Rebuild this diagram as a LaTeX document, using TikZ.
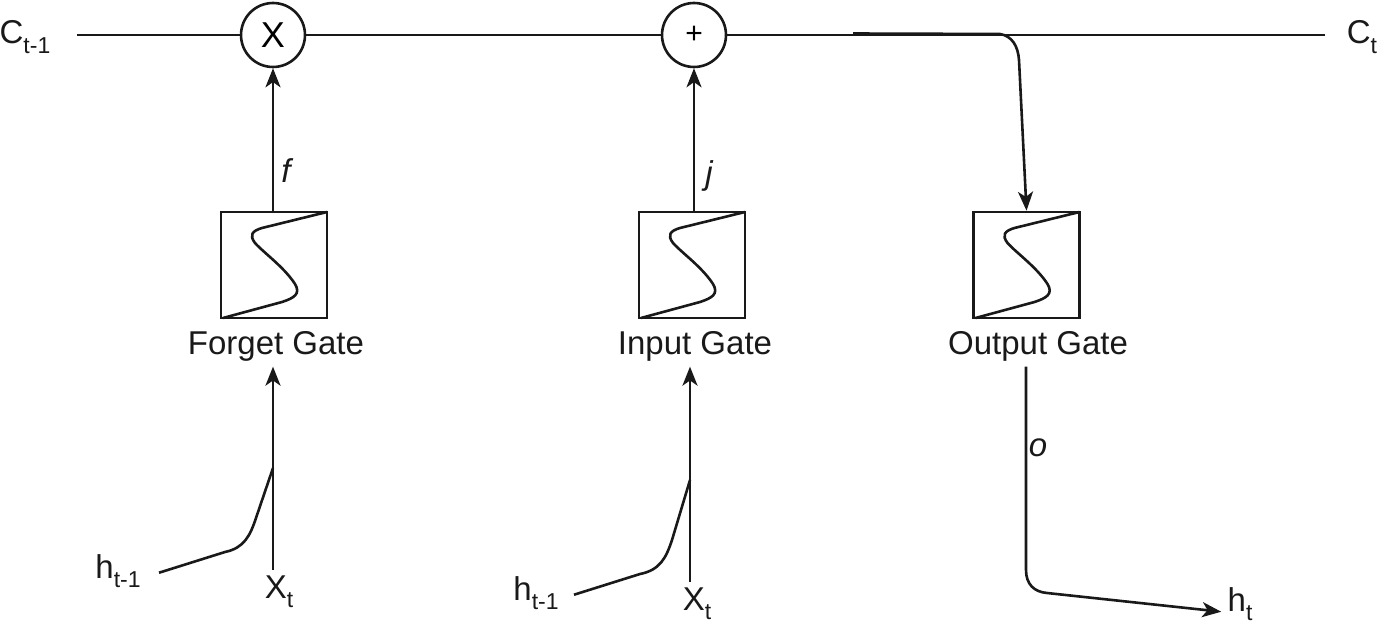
\documentclass[tikz,border=0pt]{standalone}
\usepackage{fontspec}
\setmainfont{Liberation Sans}
\usetikzlibrary{arrows.meta}
\newcommand{\sbt}[1]{\raisebox{-4.6pt}{\fontsize{11.5}{11.5}\selectfont #1}}
\newcommand{\scurve}[1]{%
  \draw[ln,line join=round,shift={(#1.center)}]
    (-51,53) -- (8,37) .. controls (20,33) and (27,29) .. (21,19)
    .. controls (10,2) and (-10,-12) .. (-19,-22)
    .. controls (-25,-30) and (-22,-34) .. (-12,-37) -- (53,-53);}
\tikzset{
  x=0.5pt,y=-0.5pt,
  ln/.style={line width=1.3pt,black!90},
  arr/.style={ln,-{Stealth[length=9.5pt,width=7.5pt,inset=2.6pt]}},
  opc/.style={circle,draw=black!90,line width=1.3pt,minimum size=32pt,inner sep=0pt,font=\fontsize{18}{18}\selectfont},
  gatebox/.style={draw=black!90,line width=1.3pt,minimum size=53pt,inner sep=0pt},
  lab/.style={anchor=base,inner xsep=0pt,inner ysep=2.7pt,font=\fontsize{16.5}{18}\selectfont,text=black!90},
  gr/.style={lab,font=\fontsize{16.5}{18}\itshape\selectfont}
}
\begin{document}
\begin{tikzpicture}
\useasboundingbox (0,0) rectangle (1379,625);
\node[opc] (c1) at (273,35) {X};
\node[opc,font=\fontsize{15}{15}\selectfont] (c2) at (694,35) {+};
\node[gatebox] (g1) at (274,265) {};
\node[gatebox] (g2) at (692,265) {};
\node[gatebox] (g3) at (1026.5,265) {};
\scurve{g1}\scurve{g2}\scurve{g3}
\node[lab] (l1) at (276,354) {Forget Gate};
\node[lab] (l2) at (695,354) {Input Gate};
\node[lab] (l3) at (1038,354) {Output Gate};
\node[lab] (cin) at (25,44) {C\sbt{t-1}};
\node[lab] (cout) at (1362,44) {C\sbt{t}};
\node[lab] (x1) at (279,598) {X\sbt{t}};
\node[lab] (x2) at (697,610) {X\sbt{t}};
\node[lab] (h1) at (118,578) {h\sbt{t-1}};
\node[lab] (h2) at (536,600) {h\sbt{t-1}};
\node[lab] (h3) at (1240,611) {h\sbt{t}};
\node[gr] at (286,183) {f};
\node[gr] at (709,185) {j};
\node[gr] at (1038,456) {o};
\coordinate (a) at (77,35);
\coordinate (b) at (1325,35);
\coordinate (t1) at (853,33.5);
\draw[ln] (a) -- (c1);
\draw[ln] (c1) -- (c2);
\draw[ln] (c2) -- (b);
\draw[arr] (g1.north -| c1.south) -- (c1.south);
\draw[arr] (g2.north -| c2.south) -- (c2.south);
\draw[ln] (t1) -- (1000,34) .. controls (1012,36) and (1018,46) .. (1019,60);
\draw[arr] (1019,60) -- (g3.north);
\draw[arr] ([xshift=-3pt]x1.north) -- ([xshift=-1.5pt]l1.south);
\draw[arr] ([xshift=-3.5pt]x2.north) -- ([xshift=-2.5pt]l2.south);
\draw[ln,line join=round] ([xshift=9pt,yshift=-1pt]h1.east) -- (225,552) .. controls (244,548) and (250,536) .. (256,518) -- (273,468);
\draw[ln,line join=round] ([xshift=7.5pt,yshift=-1pt]h2.east) -- (640,574) .. controls (660,570) and (666,558) .. (672,540) -- (690,480);
\draw[ln,line join=round,-{Stealth[length=9.5pt,width=7.5pt,inset=2.6pt]}] ([xshift=-6pt]l3.south) -- (1026,570) .. controls (1026,584) and (1034,592) .. (1047,593) -- ([xshift=-3pt,yshift=-4pt]h3.west);
\end{tikzpicture}
\end{document}
